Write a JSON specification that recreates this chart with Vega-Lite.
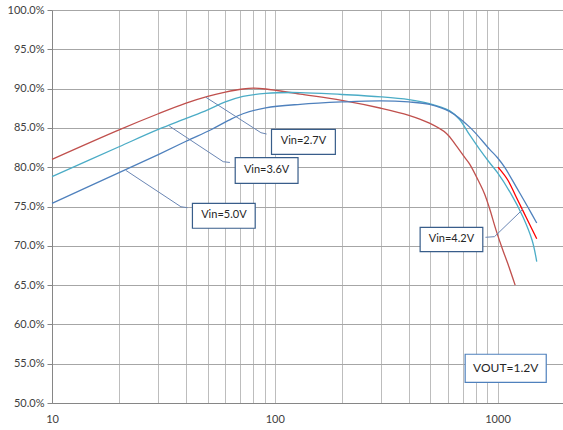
{
  "$schema": "https://vega.github.io/schema/vega-lite/v6.json",
  "width": 511,
  "height": 393,
  "autosize": "none",
  "padding": {"left": 52, "top": 10, "right": 0, "bottom": 27},
  "background": "white",
  "config": {"view": {"stroke": null}, "font": "Lato"},
  "datasets": {
    "curves": [
      {"s": "Vin=2.7V", "x": 10, "y": 81.0}, {"s": "Vin=2.7V", "x": 20, "y": 84.75}, {"s": "Vin=2.7V", "x": 30, "y": 86.8},
      {"s": "Vin=2.7V", "x": 40, "y": 88.15}, {"s": "Vin=2.7V", "x": 50, "y": 89.0}, {"s": "Vin=2.7V", "x": 60, "y": 89.55},
      {"s": "Vin=2.7V", "x": 72, "y": 89.95}, {"s": "Vin=2.7V", "x": 80, "y": 90.05}, {"s": "Vin=2.7V", "x": 91, "y": 89.95},
      {"s": "Vin=2.7V", "x": 130, "y": 89.3}, {"s": "Vin=2.7V", "x": 200, "y": 88.5}, {"s": "Vin=2.7V", "x": 300, "y": 87.5},
      {"s": "Vin=2.7V", "x": 400, "y": 86.6}, {"s": "Vin=2.7V", "x": 495, "y": 85.6}, {"s": "Vin=2.7V", "x": 590, "y": 84.3},
      {"s": "Vin=2.7V", "x": 650, "y": 82.8}, {"s": "Vin=2.7V", "x": 710, "y": 81.3}, {"s": "Vin=2.7V", "x": 750, "y": 80.4},
      {"s": "Vin=2.7V", "x": 830, "y": 78.0}, {"s": "Vin=2.7V", "x": 875, "y": 76.6}, {"s": "Vin=2.7V", "x": 920, "y": 74.8},
      {"s": "Vin=2.7V", "x": 985, "y": 72.0}, {"s": "Vin=2.7V", "x": 1055, "y": 69.5}, {"s": "Vin=2.7V", "x": 1110, "y": 67.8},
      {"s": "Vin=2.7V", "x": 1200, "y": 65.0},
      {"s": "Vin=3.6V", "x": 10, "y": 78.8}, {"s": "Vin=3.6V", "x": 20, "y": 82.6}, {"s": "Vin=3.6V", "x": 30, "y": 84.8},
      {"s": "Vin=3.6V", "x": 40, "y": 86.2}, {"s": "Vin=3.6V", "x": 50, "y": 87.3}, {"s": "Vin=3.6V", "x": 60, "y": 88.3},
      {"s": "Vin=3.6V", "x": 72, "y": 89.0}, {"s": "Vin=3.6V", "x": 91, "y": 89.4}, {"s": "Vin=3.6V", "x": 130, "y": 89.5},
      {"s": "Vin=3.6V", "x": 200, "y": 89.25}, {"s": "Vin=3.6V", "x": 300, "y": 88.95}, {"s": "Vin=3.6V", "x": 400, "y": 88.6},
      {"s": "Vin=3.6V", "x": 495, "y": 88.1}, {"s": "Vin=3.6V", "x": 608, "y": 87.2}, {"s": "Vin=3.6V", "x": 674, "y": 86.1},
      {"s": "Vin=3.6V", "x": 750, "y": 84.1}, {"s": "Vin=3.6V", "x": 830, "y": 82.3}, {"s": "Vin=3.6V", "x": 920, "y": 80.6},
      {"s": "Vin=3.6V", "x": 1000, "y": 79.3}, {"s": "Vin=3.6V", "x": 1150, "y": 76.6}, {"s": "Vin=3.6V", "x": 1300, "y": 73.7},
      {"s": "Vin=3.6V", "x": 1430, "y": 70.7}, {"s": "Vin=3.6V", "x": 1500, "y": 68.0},
      {"s": "Vin=5.0V", "x": 10, "y": 75.4}, {"s": "Vin=5.0V", "x": 20, "y": 79.3}, {"s": "Vin=5.0V", "x": 30, "y": 81.6},
      {"s": "Vin=5.0V", "x": 40, "y": 83.3}, {"s": "Vin=5.0V", "x": 52, "y": 84.8}, {"s": "Vin=5.0V", "x": 62, "y": 85.95},
      {"s": "Vin=5.0V", "x": 72, "y": 86.8}, {"s": "Vin=5.0V", "x": 91, "y": 87.55}, {"s": "Vin=5.0V", "x": 130, "y": 88.0},
      {"s": "Vin=5.0V", "x": 200, "y": 88.3}, {"s": "Vin=5.0V", "x": 300, "y": 88.45}, {"s": "Vin=5.0V", "x": 400, "y": 88.3},
      {"s": "Vin=5.0V", "x": 495, "y": 88.0}, {"s": "Vin=5.0V", "x": 608, "y": 87.1}, {"s": "Vin=5.0V", "x": 750, "y": 85.1},
      {"s": "Vin=5.0V", "x": 920, "y": 82.3}, {"s": "Vin=5.0V", "x": 1000, "y": 81.2}, {"s": "Vin=5.0V", "x": 1076, "y": 80.0},
      {"s": "Vin=5.0V", "x": 1213, "y": 77.5}, {"s": "Vin=5.0V", "x": 1370, "y": 74.9}, {"s": "Vin=5.0V", "x": 1500, "y": 72.9},
      {"s": "Vin=4.2V", "x": 1005, "y": 80.0}, {"s": "Vin=4.2V", "x": 1110, "y": 78.4}, {"s": "Vin=4.2V", "x": 1213, "y": 76.2},
      {"s": "Vin=4.2V", "x": 1346, "y": 73.6}, {"s": "Vin=4.2V", "x": 1500, "y": 70.9}
    ],
    "leaders": [
      {"s": "Vin=2.7V", "o": 1, "x": 49.1, "y": 88.89}, {"s": "Vin=2.7V", "o": 2, "x": 86.7, "y": 84.39}, {"s": "Vin=2.7V", "o": 3, "x": 91.9, "y": 84.22},
      {"s": "Vin=3.6V", "o": 1, "x": 33.6, "y": 85.24}, {"s": "Vin=3.6V", "o": 2, "x": 58.7, "y": 80.70}, {"s": "Vin=3.6V", "o": 3, "x": 62.9, "y": 80.60},
      {"s": "Vin=5.0V", "o": 1, "x": 21.5, "y": 79.58}, {"s": "Vin=5.0V", "o": 2, "x": 37.9, "y": 74.97}, {"s": "Vin=5.0V", "o": 3, "x": 40.6, "y": 74.85},
      {"s": "Vin=4.2V", "o": 1, "x": 883, "y": 71.08}, {"s": "Vin=4.2V", "o": 2, "x": 969, "y": 71.16}, {"s": "Vin=4.2V", "o": 3, "x": 1299, "y": 74.64}
    ],
    "boxes": [
      {"kind": "vin", "x": 96.7, "x2": 187.1, "y": 84.82, "y2": 81.64},
      {"kind": "vin", "x": 66.45, "x2": 127.2, "y": 81.21, "y2": 77.95},
      {"kind": "vin", "x": 42.7, "x2": 81.7, "y": 75.41, "y2": 72.23},
      {"kind": "vin", "x": 449.4, "x2": 859, "y": 72.35, "y2": 69.25},
      {"kind": "vout", "x": 715.8, "x2": 1655, "y": 56.2, "y2": 52.63}
    ],
    "labels": [
      {"kind": "vin", "label": "Vin=2.7V", "x": 134.5, "y": 83.35},
      {"kind": "vin", "label": "Vin=3.6V", "x": 91.9, "y": 79.7},
      {"kind": "vin", "label": "Vin=5.0V", "x": 59.1, "y": 73.95},
      {"kind": "vin", "label": "Vin=4.2V", "x": 621.3, "y": 70.9},
      {"kind": "vout", "label": "VOUT=1.2V", "x": 1088.4, "y": 54.45}
    ]
  },
  "encoding": {
    "x": {
      "field": "x", "type": "quantitative",
      "scale": {"type": "log", "domain": [10, 1968], "nice": false},
      "axis": {
        "title": null,
        "values": [10, 20, 30, 40, 50, 60, 70, 80, 90, 100, 200, 300, 400, 500, 600, 700, 800, 900, 1000],
        "labelExpr": "indexof([10, 100, 1000], datum.value) >= 0 ? format(datum.value, 'd') : ''",
        "labelOverlap": false, "labelFlush": false,
        "grid": true, "gridColor": "#BDBDBD", "gridWidth": 1,
        "ticks": false, "tickSize": 0, "labelPadding": 10,
        "domainColor": "#868686", "domainWidth": 1,
        "labelFont": "Lato", "labelFontSize": 11, "labelColor": "#404040"
      }
    },
    "y": {
      "field": "y", "type": "quantitative",
      "scale": {"domain": [50, 100], "nice": false, "zero": false},
      "axis": {
        "title": null,
        "values": [50, 55, 60, 65, 70, 75, 80, 85, 90, 95, 100],
        "labelExpr": "format(datum.value, '.1f') + '%'",
        "grid": true, "gridColor": "#A6A6A6", "gridWidth": 1,
        "ticks": true, "tickSize": 5, "tickColor": "#868686", "labelPadding": 3,
        "domainColor": "#868686", "domainWidth": 1,
        "labelFont": "Lato", "labelFontSize": 11, "labelColor": "#404040"
      }
    }
  },
  "layer": [
    {
      "data": {"name": "curves"},
      "mark": {"type": "line", "interpolate": "catmull-rom", "strokeWidth": 1.3},
      "encoding": {
        "color": {
          "field": "s", "type": "nominal", "legend": null,
          "scale": {"domain": ["Vin=2.7V", "Vin=3.6V", "Vin=5.0V", "Vin=4.2V"], "range": ["#C0504D", "#4BACC6", "#4F81BD", "#FF0000"]}
        }
      }
    },
    {
      "data": {"name": "leaders"},
      "mark": {"type": "line", "color": "#6A86B4", "strokeWidth": 1},
      "encoding": {
        "detail": {"field": "s", "type": "nominal"},
        "order": {"field": "o", "type": "quantitative"}
      }
    },
    {
      "data": {"name": "boxes"},
      "transform": [{"filter": "datum.kind == 'vin'"}],
      "mark": {"type": "rect", "fill": "white", "stroke": "#385D8A", "strokeWidth": 1.2},
      "encoding": {
        "x2": {"field": "x2"},
        "y2": {"field": "y2"}
      }
    },
    {
      "data": {"name": "boxes"},
      "transform": [{"filter": "datum.kind == 'vout'"}],
      "mark": {"type": "rect", "fill": "white", "stroke": "#4F81BD", "strokeWidth": 1.2},
      "encoding": {
        "x2": {"field": "x2"},
        "y2": {"field": "y2"}
      }
    },
    {
      "data": {"name": "labels"},
      "transform": [{"filter": "datum.kind == 'vin'"}],
      "mark": {"type": "text", "font": "Lato", "fontSize": 11, "color": "#262626", "align": "center", "baseline": "middle"},
      "encoding": {"text": {"field": "label"}}
    },
    {
      "data": {"name": "labels"},
      "transform": [{"filter": "datum.kind == 'vout'"}],
      "mark": {"type": "text", "font": "Lato", "fontSize": 12, "color": "#262626", "align": "center", "baseline": "middle"},
      "encoding": {"text": {"field": "label"}}
    }
  ]
}
